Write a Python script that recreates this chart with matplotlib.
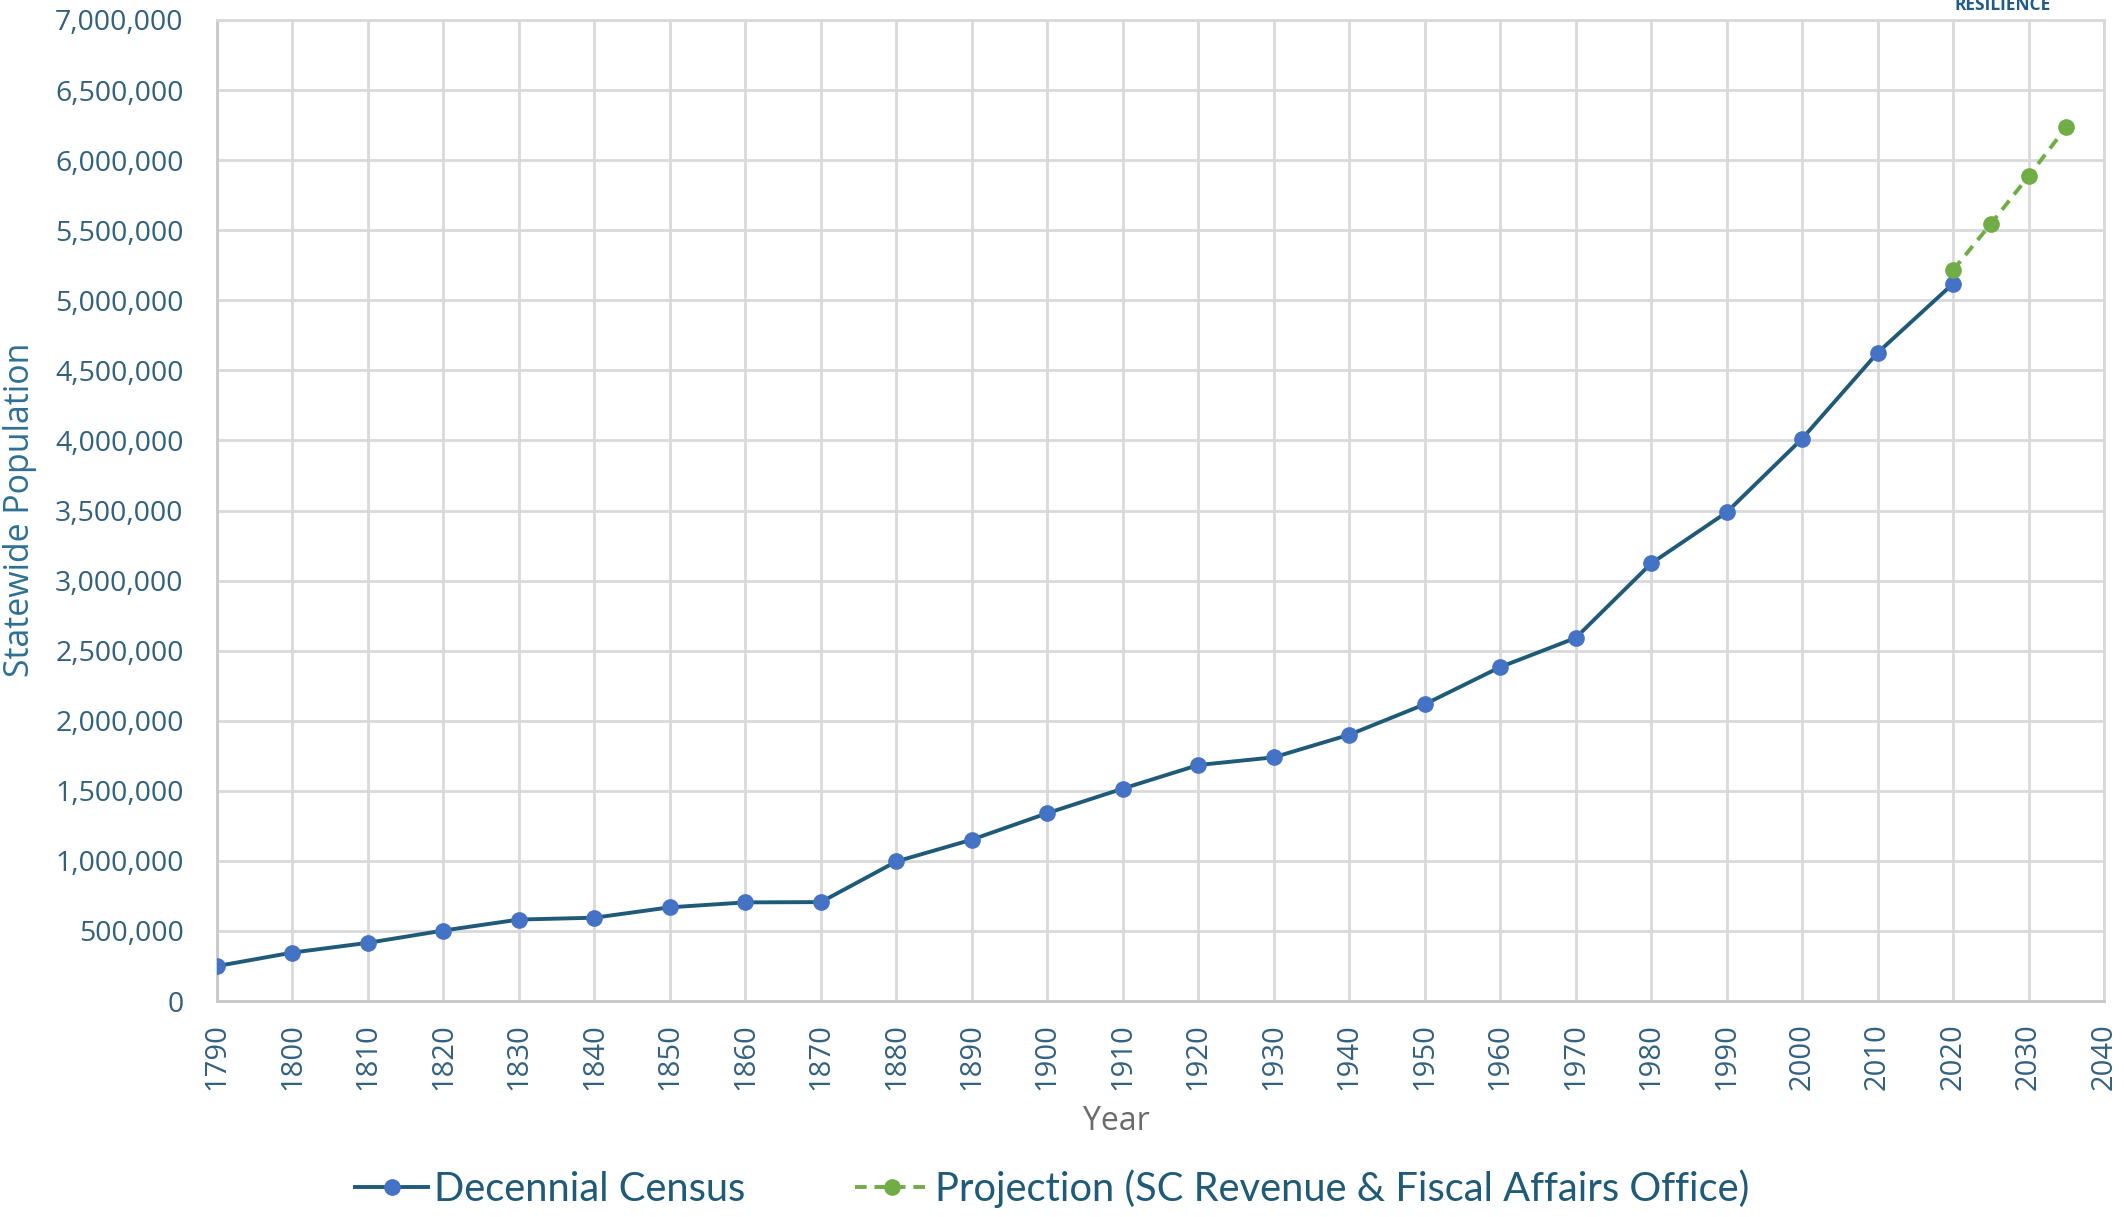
import matplotlib
matplotlib.use("Agg")
import matplotlib.pyplot as plt
from matplotlib.ticker import FuncFormatter

census_years = [1790, 1800, 1810, 1820, 1830, 1840, 1850, 1860, 1870, 1880, 1890, 1900,
                1910, 1920, 1930, 1940, 1950, 1960, 1970, 1980, 1990, 2000, 2010, 2020]
census_pop = [249073, 345591, 415115, 502741, 581185, 594398, 668507, 703708, 705606,
              995577, 1151149, 1340316, 1515400, 1683724, 1738765, 1899804, 2117027,
              2382594, 2590516, 3121820, 3486703, 4012012, 4625364, 5118425]
proj_years = [2020, 2025, 2030, 2035]
proj_pop = [5215000, 5545000, 5885000, 6235000]

x_ticks = list(range(1790, 2041, 10))
y_ticks = list(range(0, 7000001, 500000))

W, H = 2124, 1217
fig = plt.figure(figsize=(W / 100, H / 100), dpi=100)
ax = fig.add_axes([217 / W, 1 - 1001 / H, (2104 - 217) / W, (1001 - 20) / H])

tick_color = "#32617f"
grid_color = "#d9d9d9"

ax.plot(census_years, census_pop, color="#1f5a78", lw=2.8, marker="o", ms=11,
        mfc="#4472c4", mec="#4472c4", label="Decennial Census", zorder=3)
ax.plot(proj_years, proj_pop, color="#70ad47", lw=2.8, ls=(0, (3, 2)), marker="o", ms=11,
        mfc="#70ad47", mec="#70ad47", label="Projection (SC Revenue & Fiscal Affairs Office)", zorder=4)

ax.set_xlim(1790, 2040)
ax.set_ylim(0, 7000000)
ax.set_xticks(x_ticks)
ax.set_yticks(y_ticks)
ax.yaxis.set_major_formatter(FuncFormatter(lambda v, p: f"{int(v):,}"))
ax.grid(True, color=grid_color, lw=2)
ax.set_axisbelow(True)
for s in ax.spines.values():
    s.set_color(grid_color)
    s.set_linewidth(2)
ax.spines["left"].set_color("#c8c8c8")
ax.spines["bottom"].set_color("#c8c8c8")

ax.tick_params(axis="both", length=0, colors=tick_color)
ax.tick_params(axis="y", pad=24, labelsize=20.5)
ax.tick_params(axis="x", pad=16, labelsize=21, labelrotation=90)
for lab in ax.get_xticklabels() + ax.get_yticklabels():
    lab.set_family("Open Sans")

fig.text(20 / W, 1 - 510 / H, "Statewide Population", rotation=90, ha="center", va="center",
         fontsize=24.4, color="#2e6f93", family="Open Sans")
fig.text(1116 / W, 1 - 1121 / H, "Year", ha="center", va="center",
         fontsize=23, color="#6b6b6b", family="Open Sans")
fig.text(2003 / W, 1 - 10 / H, "RESILIENCE", ha="center", va="baseline",
         fontsize=12.5, color="#1f5c8a", weight="bold", family="Open Sans")

leg = fig.legend(loc="center", bbox_to_anchor=(1052 / W, 1 - 1189 / H), ncol=2, frameon=False,
                 handlelength=1.85, handletextpad=0.15, columnspacing=2.75,
                 prop={"family": "Lato", "size": 28.7})
for t in leg.get_texts():
    t.set_color("#1f5a78")

fig.savefig("out.png", dpi=100)
